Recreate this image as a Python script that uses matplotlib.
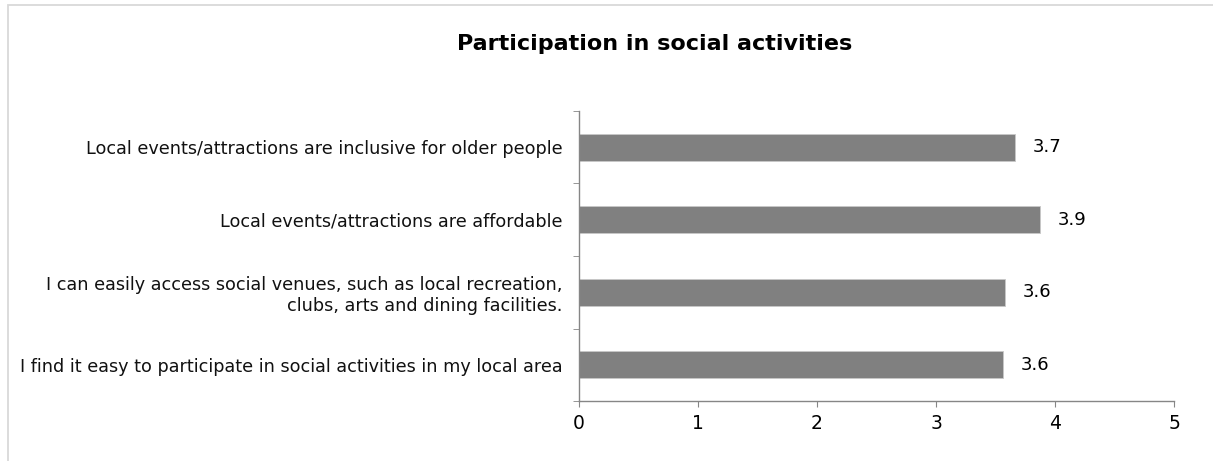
import matplotlib
matplotlib.use("Agg")
import matplotlib.pyplot as plt
from matplotlib.patches import Rectangle

categories = [
    "Local events/attractions are inclusive for older people",
    "Local events/attractions are affordable",
    "I can easily access social venues, such as local recreation,\nclubs, arts and dining facilities.",
    "I find it easy to participate in social activities in my local area",
]
values = [3.66, 3.87, 3.58, 3.56]
x_ticks = [0, 1, 2, 3, 4, 5]
title = "Participation in social activities"

plt.rcParams['font.family'] = ['DejaVu Sans']

W, H = 1213, 461
fig = plt.figure(figsize=(W / 100, H / 100), dpi=100)
fig.patches.append(Rectangle((8 / W, -0.1), 1.2, (H - 5) / H + 0.1, transform=fig.transFigure,
                             fill=False, edgecolor='#d9d9d9', linewidth=1.3))
ax = fig.add_axes([579 / W, (H - 401) / H, (1174 - 579) / W, (401 - 111) / H])

n = len(categories)
ypos = list(range(n))
ax.barh(ypos, values, height=0.37, color='#808080', edgecolor='#c8c8c8', linewidth=0.6)
for y, v in zip(ypos, values):
    ax.text(v + 0.15, y, f"{v:.1f}", va='center', ha='left', fontsize=13, color='black')

ax.set_xlim(0, 5)
ax.set_ylim(n - 0.5, -0.5)
ax.set_xticks(x_ticks)
ax.set_xticklabels([str(t) for t in x_ticks], fontsize=13.5)
ax.set_yticks(ypos)
ax.set_yticklabels(categories, fontsize=12.7, linespacing=1.22, color='#111111')
ax.set_yticks([i + 0.5 for i in range(-1, n)], minor=True)
ax.tick_params(axis='y', which='major', length=0, pad=12)
ax.tick_params(axis='y', which='minor', length=4.5, color='#868686', direction='out')
ax.tick_params(axis='x', length=4.5, color='#868686', direction='out', pad=5)
for s in ['top', 'right']:
    ax.spines[s].set_visible(False)
for s in ['left', 'bottom']:
    ax.spines[s].set_color('#868686')
    ax.spines[s].set_linewidth(1)

fig.text(655 / W, 1 - 50 / H, title, ha='center', va='baseline', fontsize=16, fontweight='bold')

fig.savefig("out.png", dpi=100)
